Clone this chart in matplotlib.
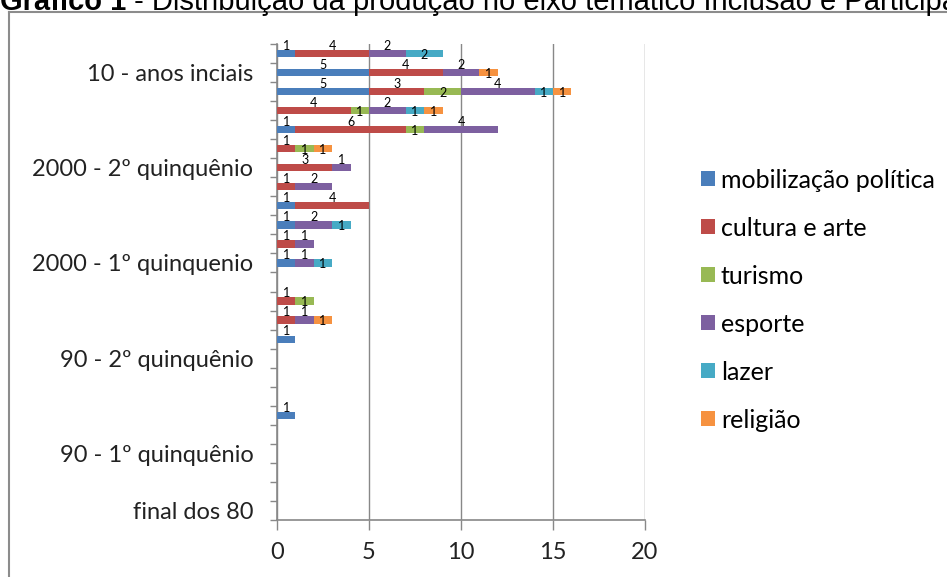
import numpy as np
import matplotlib.pyplot as plt
from matplotlib.lines import Line2D

plt.rcParams['font.family'] = ['Lato', 'DejaVu Sans']

# categorias do eixo vertical (de baixo para cima), só algumas linhas têm rótulo
periodos = ['final dos 80', '', '', '90 - 1º quinquênio', '', '', '', '',
            '90 - 2º quinquênio', '', '', '', '', '2000 - 1º quinquenio', '',
            '', '', '', '2000 - 2º quinquênio', '', '', '', '',
            '10 - anos inciais', '']

mobilizacao = [0, 0, 0, 0, 0, 1, 0, 0, 0, 1, 0, 0, 0, 1, 0, 1, 1, 0, 0, 0, 1, 0, 5, 5, 1]
cultura     = [0, 0, 0, 0, 0, 0, 0, 0, 0, 0, 1, 1, 0, 0, 1, 0, 4, 1, 3, 1, 6, 4, 3, 4, 4]
turismo     = [0, 0, 0, 0, 0, 0, 0, 0, 0, 0, 0, 1, 0, 0, 0, 0, 0, 0, 0, 1, 1, 1, 2, 0, 0]
esporte     = [0, 0, 0, 0, 0, 0, 0, 0, 0, 0, 1, 0, 0, 1, 1, 2, 0, 2, 1, 0, 4, 2, 4, 2, 2]
lazer       = [0, 0, 0, 0, 0, 0, 0, 0, 0, 0, 0, 0, 0, 1, 0, 1, 0, 0, 0, 0, 0, 1, 1, 0, 2]
religiao    = [0, 0, 0, 0, 0, 0, 0, 0, 0, 0, 1, 0, 0, 0, 0, 0, 0, 0, 0, 1, 0, 1, 1, 1, 0]

series = [
    ('mobilização política', mobilizacao, '#4A7EBB', 5.5),
    ('cultura e arte', cultura, '#BE4B48', 5.5),
    ('turismo', turismo, '#98B954', -1),
    ('esporte', esporte, '#7D60A0', 5.5),
    ('lazer', lazer, '#46AAC5', -1),
    ('religião', religiao, '#F69240', -1),
]

fig = plt.figure(figsize=(9.47, 5.77), dpi=100)
ax = fig.add_axes([0.2925, 0.0988, 0.3886, 0.8249])

y = np.arange(len(periodos))
left = np.zeros(len(periodos))
for nome, vals, cor, dy in series:
    vals = np.array(vals, dtype=float)
    ax.barh(y, vals, left=left, height=0.38, color=cor, label=nome, zorder=3)
    for yi, (l, v) in enumerate(zip(left, vals)):
        if v > 0:
            ax.annotate(f'{int(v)}', (l + v / 2, yi), xytext=(0, dy),
                        textcoords='offset points', ha='center', va='center',
                        fontsize=9, color='black', zorder=4)
    left += vals

ax.set_xlim(0, 20)
ax.set_ylim(-0.5, len(periodos) - 0.5)
ax.set_xticks([0, 5, 10, 15, 20])
ax.set_yticks(y)
ax.set_yticklabels(periodos)
ax.set_yticks(np.arange(-0.5, len(periodos), 1), minor=True)
ax.tick_params(axis='y', which='major', length=0, labelsize=17, pad=17, colors='#222222')
ax.tick_params(axis='y', which='minor', length=5, width=1, color='#888888', direction='out')
ax.tick_params(axis='x', length=7, width=1, color='#888888', labelsize=17, pad=9, labelcolor='#222222')
ax.grid(axis='x', color='#888888', linewidth=1, zorder=0)
for s in ['top', 'right']:
    ax.spines[s].set_visible(False)
for s in ['left', 'bottom']:
    ax.spines[s].set_color('#888888')
    ax.spines[s].set_linewidth(1.2)

fig.legend(loc='upper left', bbox_to_anchor=(0.7296, 0.725), frameon=False,
           fontsize=18, handlelength=0.55, handleheight=0.55, handletextpad=0.25,
           labelspacing=1.0, borderaxespad=0)

# moldura do gráfico e título cortado no topo
fig.add_artist(Line2D([8.5 / 947, 8.5 / 947], [0, 1 - 12 / 577], color='#8c8c8c', lw=1.5))
fig.add_artist(Line2D([8.5 / 947, 1], [1 - 12 / 577, 1 - 12 / 577], color='#8c8c8c', lw=1.5))
ybase = 1 - 10 / 577
t1 = fig.text(0.0, ybase, 'Gráfico 1', fontsize=21, fontweight='bold',
              family='Liberation Sans', va='baseline', ha='left')
renderer = fig.canvas.get_renderer()
x1 = t1.get_window_extent(renderer).x1 / fig.bbox.width
fig.text(x1, ybase, ' - Distribuição da produção no eixo temático Inclusão e Participação',
         fontsize=21, family='Liberation Sans', va='baseline', ha='left')

fig.savefig('out.png', dpi=100)
